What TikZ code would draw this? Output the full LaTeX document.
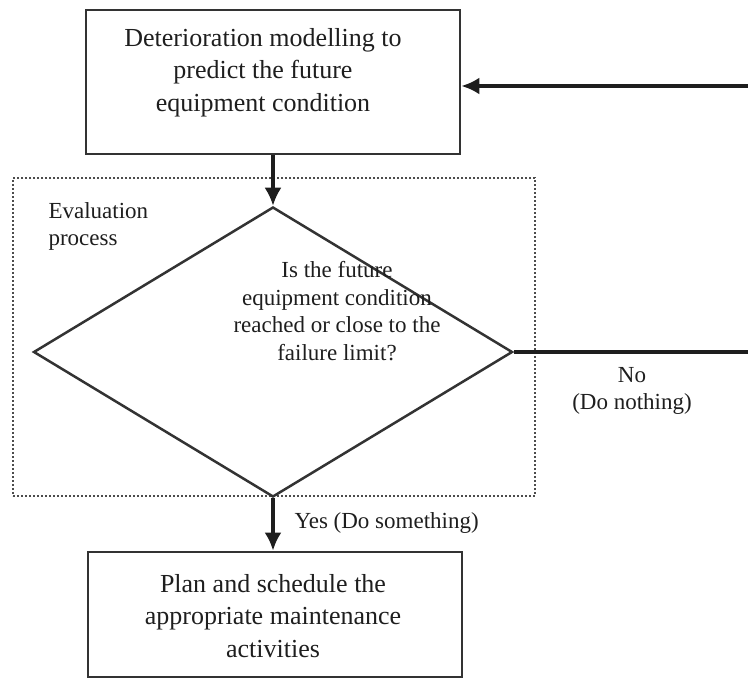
\documentclass[tikz,border=0pt]{standalone}
\usepackage{fontspec}
\setmainfont{Liberation Serif}
\usetikzlibrary{arrows.meta,shapes.geometric}
\definecolor{ink}{HTML}{1E1E1E}
\definecolor{edge}{HTML}{333333}
\tikzset{
  boxtext/.style={font=\fontsize{26}{32.5}\selectfont, align=center, text=ink},
  labeltext/.style={font=\fontsize{23}{27.5}\selectfont, align=center, text=ink},
  stepbox/.style={draw=edge, line width=2.8pt, inner sep=0pt},
  decision/.style={diamond, draw=edge, line width=2.5pt, inner sep=0pt},
  evalframe/.style={draw=gray!60!black, line width=2pt, dash pattern=on 2pt off 2pt, inner sep=0pt},
  flow/.style={draw=ink, line width=3.2pt, -{Latex[length=18pt,width=17pt]}},
  plain/.style={draw=ink, line width=3.2pt},
}
\begin{document}
\begin{tikzpicture}[x=1pt,y=-1pt]
\useasboundingbox (0,0) rectangle (748,679);

% dotted frame around the evaluation step
\node[evalframe, minimum width=522pt, minimum height=318pt] (frame) at (274,337) {};
\node[labeltext, align=left, anchor=west] (evallbl) at (45,226.5) {Evaluation\\process};

% process boxes
\node[stepbox, minimum width=374pt, minimum height=144pt] (model) at (273,82) {};
\node[boxtext] (modeltxt) at (263,72.5) {Deterioration modelling to\\predict the future\\equipment condition};

\node[stepbox, minimum width=374pt, minimum height=125pt] (plan) at (275,614.5) {};
\node[boxtext] (plantxt) at (273,616) {Plan and schedule the\\appropriate maintenance\\activities};

% decision
\node[decision, minimum width=479pt, minimum height=290pt] (dec) at (273,352) {};
\node[labeltext] (dectxt) at (337,311) {Is the future\\equipment condition\\reached or close to the\\failure limit?};

% free ends of the loop on the right
\coordinate (loopin) at (748,86);
\coordinate (loopout) at (748,352);

% connectors
\draw[flow] (loopin) -- (loopin -| model.east);
\draw[flow] (model.south) -- (dec.north);
\draw[plain] (dec.east) -- (loopout);
\draw[flow] (dec.south) -- (dec.south |- plan.north);

% branch labels
\node[labeltext] (nolbl) at (632,391) {No\\(Do nothing)};
\node[labeltext, anchor=west] (yeslbl) at (291,523) {Yes (Do something)};
\end{tikzpicture}
\end{document}
